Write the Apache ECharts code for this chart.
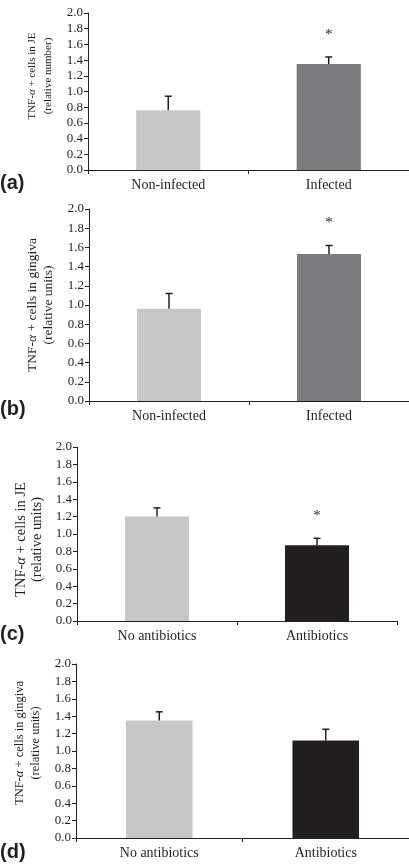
<!DOCTYPE html>
<html>
<head>
<meta charset="utf-8">
<script src="https://cdn.jsdelivr.net/npm/echarts@6/dist/echarts.min.js"></script>
<style>
  html, body { margin: 0; padding: 0; background: #fff; }
  #chart { width: 409px; height: 868px; }
</style>
</head>
<body>
<div id="chart"></div>
<script>
// categories
const infectionGroups = ['Non-infected', 'Infected'];
const antibioticGroups = ['No antibiotics', 'Antibiotics'];

// means and upper error (mean + SE)
const meanA = [0.76, 1.35];
const errA = [0.94, 1.44];
const sigA = [false, true];

const meanB = [0.96, 1.53];
const errB = [1.12, 1.62];
const sigB = [false, true];

const meanC = [1.20, 0.87];
const errC = [1.30, 0.95];
const sigC = [false, true];

const meanD = [1.35, 1.12];
const errD = [1.45, 1.25];
const sigD = [false, false];

const yTicks = { min: 0, max: 2, interval: 0.2 };

const serif = 'Liberation Serif';
const ink = '#231f20';
const lightGray = '#c6c7c9';
const darkGray = '#7b7c80';
const black = '#231f20';

// nameSize / namePad tune the rotated y-axis title of each panel
const panels = [
  { letter: '(a)', cats: infectionGroups, mean: meanA, err: errA, sig: sigA,
    colors: [lightGray, darkGray], name: 'TNF-{i|α} + cells in JE\n(relative number)',
    nameSize: 11, namePad: [0, 0, 0, 31], nameGap: 31,
    grid: { left: 88, top: 13, width: 325, height: 157 }, letterTop: 173 },
  { letter: '(b)', cats: infectionGroups, mean: meanB, err: errB, sig: sigB,
    colors: [lightGray, darkGray], name: 'TNF-{i|α} + cells in gingiva\n(relative units)',
    nameSize: 13.5, namePad: [0, 0, 0, 0], nameGap: 30,
    grid: { left: 89, top: 209, width: 322, height: 192 }, letterTop: 399 },
  { letter: '(c)', cats: antibioticGroups, mean: meanC, err: errC, sig: sigC,
    colors: [lightGray, black], name: 'TNF-{i|α} + cells in JE\n(relative units)',
    nameSize: 14.5, namePad: [0, 11, 0, 0], nameGap: 32,
    grid: { left: 77, top: 447, width: 320, height: 174 }, letterTop: 624 },
  { letter: '(d)', cats: antibioticGroups, mean: meanD, err: errD, sig: sigD,
    colors: [lightGray, black], name: 'TNF-{i|α} + cells in gingiva\n(relative units)',
    nameSize: 12.5, namePad: [0, 0, 0, 16], nameGap: 32,
    grid: { left: 76, top: 664, width: 333, height: 174 }, letterTop: 842 }
];

function errorBarRender(sig) {
  return function (params, api) {
    const i = api.value(0);
    const base = api.coord([i, api.value(1)]);
    const top = api.coord([i, api.value(2)]);
    const cap = 3.5;
    const children = [
      { type: 'line', shape: { x1: base[0], y1: base[1], x2: top[0], y2: top[1] },
        style: { stroke: ink, lineWidth: 1.5 } },
      { type: 'line', shape: { x1: top[0] - cap, y1: top[1], x2: top[0] + cap, y2: top[1] },
        style: { stroke: ink, lineWidth: 1.5 } }
    ];
    if (sig[params.dataIndex]) {
      children.push({ type: 'text', x: top[0], y: top[1] - 22,
        style: { text: '*', fill: ink, font: '15px ' + serif, align: 'center', verticalAlign: 'middle' } });
    }
    return { type: 'group', children: children };
  };
}

const option = {
  backgroundColor: '#fff',
  animation: false,
  grid: [],
  xAxis: [],
  yAxis: [],
  series: [],
  graphic: []
};

panels.forEach((p, k) => {
  option.grid.push(p.grid);
  option.xAxis.push({
    type: 'category',
    gridIndex: k,
    data: p.cats,
    axisLine: { lineStyle: { color: ink, width: 1 } },
    axisTick: { show: true, length: 4, lineStyle: { color: ink } },
    axisLabel: { color: ink, fontFamily: serif, fontSize: 14, margin: 8 }
  });
  option.yAxis.push({
    type: 'value',
    gridIndex: k,
    min: yTicks.min,
    max: yTicks.max,
    interval: yTicks.interval,
    splitLine: { show: false },
    axisLine: { show: true, lineStyle: { color: ink, width: 1 } },
    axisTick: { show: true, length: 4, lineStyle: { color: ink } },
    axisLabel: { color: ink, fontFamily: serif, fontSize: 13, margin: 5,
      formatter: v => v.toFixed(1) },
    name: p.name,
    nameLocation: 'middle',
    nameRotate: 90,
    nameGap: p.nameGap,
    nameTextStyle: { color: ink, fontFamily: serif, fontSize: p.nameSize, lineHeight: 16,
      padding: p.namePad,
      rich: { i: { fontStyle: 'italic', fontFamily: serif, fontSize: p.nameSize, color: ink } } }
  });
  option.series.push({
    type: 'bar',
    xAxisIndex: k,
    yAxisIndex: k,
    barWidth: '40%',
    data: p.mean.map((v, i) => ({ value: v, itemStyle: { color: p.colors[i] } }))
  });
  option.series.push({
    type: 'custom',
    xAxisIndex: k,
    yAxisIndex: k,
    renderItem: errorBarRender(p.sig),
    encode: { x: 0, y: [1, 2] },
    data: p.mean.map((v, i) => [i, v, p.err[i]]),
    z: 5
  });
  option.graphic.push({
    type: 'text',
    left: 0,
    top: p.letterTop,
    style: { text: p.letter, fill: ink, font: 'bold 20px "Liberation Sans"' }
  });
});

const chart = echarts.init(document.getElementById('chart'));
chart.setOption(option);
</script>
</body>
</html>
